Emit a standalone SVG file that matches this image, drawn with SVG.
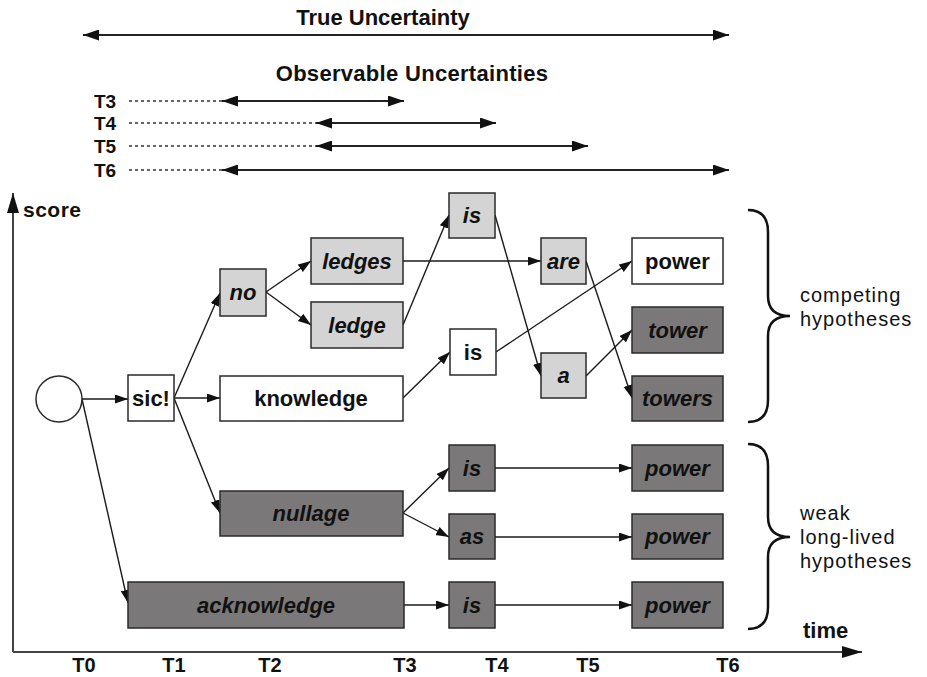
<svg xmlns="http://www.w3.org/2000/svg" width="927" height="677" viewBox="0 0 927 677">
  <defs>
    <style>
      .box { stroke: #2a2a2a; stroke-width: 1.5; }
      .white { fill: #ffffff; }
      .light { fill: #d4d4d4; }
      .dark { fill: #7a7878; }
      .lbl { font-family: "Liberation Sans", Arial, sans-serif; font-weight: bold; font-size: 22px; fill: #111; text-anchor: middle; }
      .it { font-style: italic; }
      .edge { stroke: #1a1a1a; stroke-width: 1.4; fill: none; marker-end: url(#tip); }
      .axis { stroke: #444; stroke-width: 2; fill: none; }
      .span { stroke: #222; stroke-width: 2; fill: none; marker-start: url(#spanL); marker-end: url(#spanR); }
      .dots { stroke: #333; stroke-width: 1.5; stroke-dasharray: 3 3; fill: none; }
      .head { font-family: "Liberation Sans", Arial, sans-serif; font-weight: bold; fill: #111; }
      .note { font-family: "Liberation Sans", Arial, sans-serif; font-size: 20px; letter-spacing: 1px; fill: #111; }
      .brace { stroke: #111; stroke-width: 2.5; fill: none; }
    </style>
    <marker id="tip" markerUnits="userSpaceOnUse" markerWidth="14" markerHeight="10" refX="13" refY="4.5" orient="auto">
      <path d="M0,0 L13,4.5 L0,9 z" fill="#111"/>
    </marker>
    <marker id="spanR" markerUnits="userSpaceOnUse" markerWidth="18" markerHeight="12" refX="16" refY="5.5" orient="auto">
      <path d="M0,0 L16,5.5 L0,11 z" fill="#111"/>
    </marker>
    <marker id="spanL" markerUnits="userSpaceOnUse" markerWidth="18" markerHeight="12" refX="0" refY="5.5" orient="auto">
      <path d="M16,0 L0,5.5 L16,11 z" fill="#111"/>
    </marker>
    <marker id="axisTip" markerUnits="userSpaceOnUse" markerWidth="22" markerHeight="14" refX="20" refY="6" orient="auto">
      <path d="M0,0 L20,6 L0,12 z" fill="#111"/>
    </marker>
  </defs>

  <rect width="927" height="677" fill="#ffffff"/>

  <!-- uncertainty spans -->
  <g id="uncertainty">
    <text class="head" x="383" y="25" font-size="22" text-anchor="middle">True Uncertainty</text>
    <line class="span" x1="83" y1="35" x2="729" y2="35"/>
    <text class="head" x="412" y="81" font-size="22" text-anchor="middle" letter-spacing="0.3">Observable Uncertainties</text>
    <g font-size="19">
      <text class="head" x="94" y="108">T3</text>
      <text class="head" x="94" y="130">T4</text>
      <text class="head" x="94" y="153">T5</text>
      <text class="head" x="94" y="177">T6</text>
    </g>
    <line class="dots" x1="129" y1="101" x2="222" y2="101"/>
    <line class="dots" x1="129" y1="123" x2="316" y2="123"/>
    <line class="dots" x1="129" y1="146" x2="316" y2="146"/>
    <line class="dots" x1="129" y1="170" x2="222" y2="170"/>
    <line class="span" x1="222" y1="101" x2="404" y2="101"/>
    <line class="span" x1="316" y1="123" x2="496" y2="123"/>
    <line class="span" x1="316" y1="146" x2="588" y2="146"/>
    <line class="span" x1="222" y1="170" x2="729" y2="170"/>
  </g>

  <!-- axes -->
  <g id="axes">
    <line class="axis" x1="13" y1="652" x2="13" y2="193" marker-end="url(#axisTip)"/>
    <line class="axis" x1="13" y1="652" x2="862" y2="652" marker-end="url(#axisTip)"/>
    <text class="head" x="23" y="217" font-size="21" letter-spacing="0.5">score</text>
    <text class="head" x="803" y="638" font-size="22">time</text>
    <g font-size="20" text-anchor="middle">
      <text class="head" x="84" y="672">T0</text>
      <text class="head" x="174" y="672">T1</text>
      <text class="head" x="270" y="672">T2</text>
      <text class="head" x="405" y="672">T3</text>
      <text class="head" x="497" y="672">T4</text>
      <text class="head" x="588" y="672">T5</text>
      <text class="head" x="728" y="672">T6</text>
    </g>
  </g>

  <!-- connectors -->
  <g id="connectors">
    <line class="edge" x1="82" y1="399" x2="128" y2="399"/>
    <line class="edge" x1="82" y1="399" x2="128" y2="603"/>
    <line class="edge" x1="174" y1="398" x2="220" y2="293"/>
    <line class="edge" x1="174" y1="398" x2="220" y2="398"/>
    <line class="edge" x1="174" y1="398" x2="220" y2="513"/>
    <line class="edge" x1="266" y1="292" x2="311" y2="261"/>
    <line class="edge" x1="266" y1="292" x2="311" y2="325"/>
    <line class="edge" x1="403" y1="261" x2="541" y2="261"/>
    <line class="edge" x1="403" y1="325" x2="449" y2="215"/>
    <line class="edge" x1="403" y1="398" x2="450" y2="352"/>
    <line class="edge" x1="495" y1="215" x2="541" y2="376"/>
    <line class="edge" x1="586" y1="261" x2="632" y2="398"/>
    <line class="edge" x1="496" y1="352" x2="632" y2="261"/>
    <line class="edge" x1="586" y1="376" x2="632" y2="330"/>
    <line class="edge" x1="403" y1="513" x2="449" y2="468"/>
    <line class="edge" x1="403" y1="513" x2="449" y2="537"/>
    <line class="edge" x1="495" y1="468" x2="632" y2="468"/>
    <line class="edge" x1="495" y1="537" x2="632" y2="537"/>
    <line class="edge" x1="404" y1="605" x2="449" y2="605"/>
    <line class="edge" x1="495" y1="605" x2="632" y2="605"/>
  </g>

  <!-- hypothesis lattice nodes -->
  <g id="start">
    <circle cx="59" cy="399" r="23" fill="#ffffff" stroke="#2a2a2a" stroke-width="1.5"/>
  </g>
  <g id="n-sic">
    <rect class="box white" x="128" y="375" width="46" height="46"/>
    <text class="lbl" x="151" y="406">sic!</text>
  </g>
  <g id="n-no">
    <rect class="box light" x="220" y="269" width="46" height="47"/>
    <text class="lbl it" x="243" y="300">no</text>
  </g>
  <g id="n-ledges">
    <rect class="box light" x="311" y="238" width="92" height="46"/>
    <text class="lbl it" x="357" y="269">ledges</text>
  </g>
  <g id="n-ledge">
    <rect class="box light" x="311" y="302" width="92" height="46"/>
    <text class="lbl it" x="357" y="333">ledge</text>
  </g>
  <g id="n-knowledge">
    <rect class="box white" x="220" y="376" width="183" height="45"/>
    <text class="lbl" x="311" y="406">knowledge</text>
  </g>
  <g id="n-nullage">
    <rect class="box dark" x="220" y="491" width="183" height="45"/>
    <text class="lbl it" x="311" y="521">nullage</text>
  </g>
  <g id="n-acknowledge">
    <rect class="box dark" x="128" y="582" width="276" height="46"/>
    <text class="lbl it" x="266" y="613">acknowledge</text>
  </g>
  <g id="n-is-top">
    <rect class="box light" x="449" y="193" width="46" height="45"/>
    <text class="lbl it" x="472" y="223">is</text>
  </g>
  <g id="n-is-mid">
    <rect class="box white" x="450" y="329" width="46" height="46"/>
    <text class="lbl" x="473" y="360">is</text>
  </g>
  <g id="n-is-low1">
    <rect class="box dark" x="449" y="445" width="46" height="46"/>
    <text class="lbl it" x="472" y="476">is</text>
  </g>
  <g id="n-as">
    <rect class="box dark" x="449" y="514" width="46" height="45"/>
    <text class="lbl it" x="472" y="544">as</text>
  </g>
  <g id="n-is-low2">
    <rect class="box dark" x="449" y="582" width="46" height="46"/>
    <text class="lbl it" x="472" y="613">is</text>
  </g>
  <g id="n-are">
    <rect class="box light" x="541" y="238" width="45" height="46"/>
    <text class="lbl it" x="563.5" y="269">are</text>
  </g>
  <g id="n-a">
    <rect class="box light" x="541" y="353" width="45" height="45"/>
    <text class="lbl it" x="563.5" y="383">a</text>
  </g>
  <g id="n-power-top">
    <rect class="box white" x="632" y="238" width="91" height="46"/>
    <text class="lbl" x="677.5" y="269">power</text>
  </g>
  <g id="n-tower">
    <rect class="box dark" x="632" y="307" width="91" height="46"/>
    <text class="lbl it" x="677.5" y="338">tower</text>
  </g>
  <g id="n-towers">
    <rect class="box dark" x="632" y="376" width="91" height="45"/>
    <text class="lbl it" x="677.5" y="406">towers</text>
  </g>
  <g id="n-power-1">
    <rect class="box dark" x="632" y="445" width="91" height="46"/>
    <text class="lbl it" x="677.5" y="476">power</text>
  </g>
  <g id="n-power-2">
    <rect class="box dark" x="632" y="514" width="91" height="45"/>
    <text class="lbl it" x="677.5" y="544">power</text>
  </g>
  <g id="n-power-3">
    <rect class="box dark" x="632" y="582" width="91" height="46"/>
    <text class="lbl it" x="677.5" y="613">power</text>
  </g>

  <!-- hypothesis groupings -->
  <g id="group-competing">
    <path class="brace" d="M748,210 Q768,210 768,232 L768,296 Q768,316 790,316 Q768,316 768,336 L768,400 Q768,422 748,422"/>
    <text class="note" x="800" y="302">competing</text>
    <text class="note" x="800" y="326">hypotheses</text>
  </g>
  <g id="group-weak">
    <path class="brace" d="M748,444 Q768,444 768,466 L768,517 Q768,537 790,537 Q768,537 768,557 L768,607 Q768,629 748,629"/>
    <text class="note" x="800" y="520">weak</text>
    <text class="note" x="800" y="544">long-lived</text>
    <text class="note" x="800" y="568">hypotheses</text>
  </g>
</svg>
